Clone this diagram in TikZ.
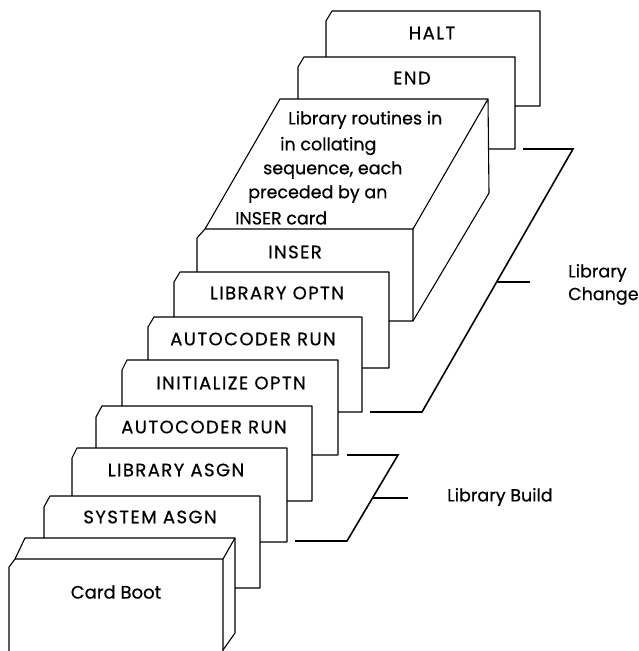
\documentclass[tikz,border=0pt]{standalone}
\usepackage{fontspec}
\setmainfont{Poppins}[FakeBold=0.6]
\begin{document}
\begin{tikzpicture}[x=1pt,y=-1pt,
  cardline/.style={line width=1.1pt,line join=round},
  brack/.style={line width=1.6pt},
  lbl/.style={inner sep=0pt,font=\fontsize{18}{20}\selectfont\addfontfeature{LetterSpace=8}},
  mlbl/.style={inner sep=0pt,font=\fontsize{18}{20}\selectfont},
  blbl/.style={inner sep=0pt,anchor=west,font=\fontsize{17.5}{20}\selectfont},
  ]
\useasboundingbox (0,0) rectangle (638,651);
% HALT card
\draw[cardline] (326,57) -- (326,21) -- (332,11) -- (540,11) -- (540,106) -- (515,106);
% END card
\draw[cardline] (298,99) -- (298,67) -- (304,57) -- (515,57) -- (515,149) -- (489,149);
% Library routines box
\draw[cardline] (197,272) -- (197,238) -- (205,229) -- (413,229) -- (413,321) -- (389,321);
\draw[cardline] (205,229) -- (280,99) -- (488,99) -- (413,229);
\draw[cardline] (488,99) -- (489,193) -- (413,321);
% LIBRARY OPTN
\draw[cardline] (174,317) -- (174,282) -- (180,272) -- (389,272) -- (389,368) -- (362,368);
% AUTOCODER RUN (upper)
\draw[cardline] (148,360) -- (148,327) -- (154,317) -- (362,317) -- (362,412) -- (338,412);
% INITIALIZE OPTN
\draw[cardline] (122,406) -- (122,370) -- (127,360) -- (338,360) -- (338,455) -- (312,455);
% AUTOCODER RUN (lower)
\draw[cardline] (96,448) -- (96,417) -- (102,406) -- (312,406) -- (312,501) -- (287,501);
% LIBRARY ASGN
\draw[cardline] (72,496) -- (72,458) -- (77,448) -- (287,448) -- (287,542) -- (260,542);
% SYSTEM ASGN
\draw[cardline] (44,538) -- (44,507) -- (50,496) -- (260,496) -- (260,588) -- (235,588);
% Card Boot box
\draw[cardline] (9,651) -- (9,567) -- (15,559) -- (223,559) -- (223,651);
\draw[cardline] (15,559) -- (25,538) -- (235,538) -- (223,559);
\draw[cardline] (235,538) -- (235,633) -- (223,650);
% Library Change bracket
\coordinate (lc1) at (523,149);
\coordinate (lc2) at (573,149);
\coordinate (lc3) at (422,412);
\coordinate (lc4) at (370,412);
\coordinate (lct) at (497,282);
\coordinate (lce) at (530,282);
\draw[brack] (lc1) -- (lc2) -- (lc3) -- (lc4);
\draw[brack] (lct) -- (lce);
% Library Build bracket
\coordinate (lb1) at (347,455);
\coordinate (lb2) at (398,455);
\coordinate (lb3) at (347,541);
\coordinate (lb4) at (295,541);
\coordinate (lbt) at (372.5,498);
\coordinate (lbe) at (408,498);
\draw[brack] (lb1) -- (lb2) -- (lb3) -- (lb4);
\draw[brack] (lbt) -- (lbe);
% labels
\node[lbl] (halt) at (432,33) {HALT};
\node[lbl] (end) at (412,78) {END};
\node[blbl] (r1) at (288,120) {Library routines in};
\node[blbl] (r2) at (280,146) {in collating};
\node[blbl] (r3) at (263,170) {sequence, each};
\node[blbl] (r4) at (248,194) {preceded by an};
\node[blbl] (r5) at (235,218) {INSER card};
\node[lbl] (inser) at (295,252) {INSER};
\node[lbl] (libo) at (277,293) {LIBRARY OPTN};
\node[lbl] (ac2) at (253,339) {AUTOCODER RUN};
\node[lbl] (init) at (231,383) {INITIALIZE OPTN};
\node[lbl] (ac1) at (204,427) {AUTOCODER RUN};
\node[lbl] (liba) at (176,470) {LIBRARY ASGN};
\node[lbl] (sysa) at (150,517) {SYSTEM ASGN};
\node[mlbl] (boot) at (116,592) {Card Boot};
\node[blbl] (chg1) at (568,273) {Library};
\node[blbl] (chg2) at (568,296) {Change};
\node[blbl] (bld) at (447,497) {Library Build};
\end{tikzpicture}
\end{document}
